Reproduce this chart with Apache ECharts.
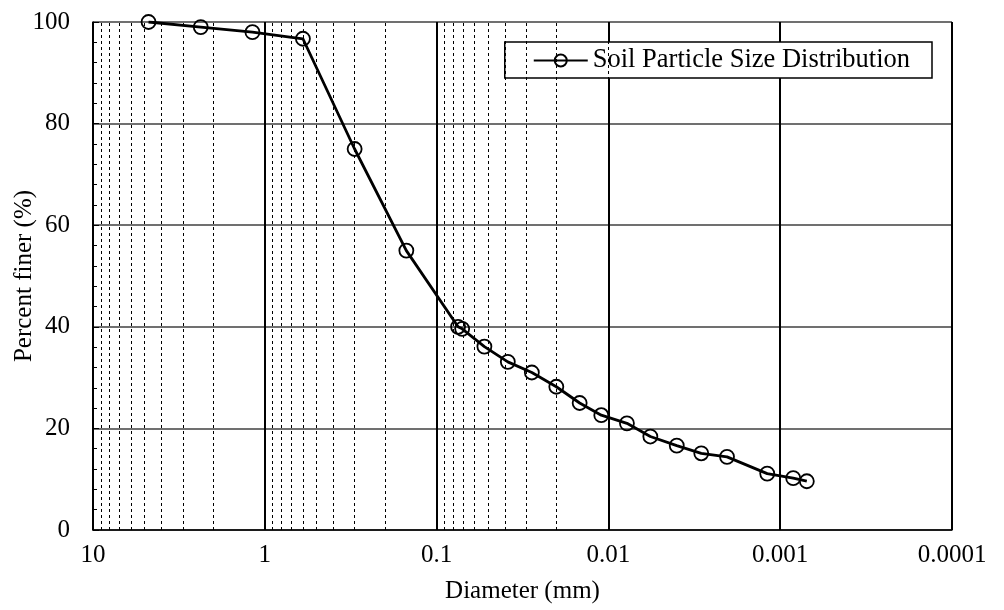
<!DOCTYPE html>
<html>
<head>
<meta charset="utf-8">
<script src="https://cdn.jsdelivr.net/npm/echarts@6/dist/echarts.min.js"></script>
<style>
html,body{margin:0;padding:0;background:#fff;}
#chart{width:1004px;height:610px;}
</style>
</head>
<body>
<div id="chart"></div>
<script>
// Data
const diameters = [4.75, 2.36, 1.18, 0.6, 0.3, 0.15, 0.075, 0.071, 0.0527, 0.0385, 0.0279, 0.0201, 0.0147, 0.011, 0.0078, 0.0057, 0.0040, 0.00288, 0.00204, 0.00119, 0.00084, 0.00070];
const percentFiner = [100, 99, 98, 96.7, 75, 55, 40, 39.6, 36.1, 33.1, 31.0, 28.2, 25.0, 22.6, 21.0, 18.4, 16.6, 15.1, 14.4, 11.1, 10.2, 9.6];
const seriesName = 'Soil Particle Size Distribution';
const xTickLabels = ['10', '1', '0.1', '0.01', '0.001', '0.0001'];
const decadeBases = [0.0001, 0.001, 0.01, 0.1, 1];
const minorMultipliers = [2, 3, 4, 5, 6, 7, 8, 9];

const FONT = '"Liberation Serif", "Times New Roman", serif';
const minorLines = [];
decadeBases.forEach(b => minorMultipliers.forEach(m => minorLines.push({ xAxis: +(b * m).toPrecision(3) })));

const chart = echarts.init(document.getElementById('chart'));
chart.setOption({
  animation: false,
  backgroundColor: '#fff',
  grid: { left: 93, right: 52, top: 22, bottom: 80, containLabel: false, outerBoundsMode: 'none' },
  legend: {
    data: [seriesName],
    right: 72, top: 42,
    backgroundColor: '#fff',
    borderColor: '#000', borderWidth: 1.5, borderRadius: 0,
    padding: [5, 22, 4, 28],
    itemWidth: 54, itemHeight: 15, itemGap: 5,
    textStyle: { fontFamily: FONT, fontSize: 26.5, color: '#000' }
  },
  xAxis: {
    type: 'log', logBase: 10, min: 0.0001, max: 10, inverse: true,
    name: 'Diameter (mm)', nameLocation: 'middle', nameGap: 49, nameMoveOverlap: false,
    nameTextStyle: { fontFamily: FONT, fontSize: 25, color: '#000' },
    axisLine: { show: true, onZero: false, lineStyle: { color: '#000', width: 1.5 } },
    axisTick: { show: true, inside: true, length: 5, lineStyle: { color: '#000' } },
    axisLabel: {
      fontFamily: FONT, fontSize: 25, color: '#000', margin: 13,
      formatter: v => {
        const k = Math.round(Math.log10(v));
        return xTickLabels[1 - k] !== undefined ? xTickLabels[1 - k] : '';
      }
    },
    splitLine: { show: true, lineStyle: { color: '#000', width: 2 } }
  },
  yAxis: {
    type: 'value', min: 0, max: 100, interval: 20,
    name: 'Percent finer (%)', nameLocation: 'middle', nameGap: 56, nameMoveOverlap: false,
    nameTextStyle: { fontFamily: FONT, fontSize: 25, color: '#000' },
    axisLine: { show: true, lineStyle: { color: '#000', width: 1.5 } },
    axisTick: { show: true, inside: true, length: 6, lineStyle: { color: '#000' } },
    minorTick: { show: true, splitNumber: 5, length: 4, lineStyle: { color: '#000' } },
    axisLabel: { fontFamily: FONT, fontSize: 25, color: '#000', margin: 23 },
    splitLine: { show: true, lineStyle: { color: '#404040', width: 1.5 } }
  },
  series: [
    {
      name: '__minor',
      type: 'line',
      z: 1,
      silent: true,
      symbol: 'none',
      lineStyle: { opacity: 0 },
      data: diameters.map((d, i) => [d, percentFiner[i]]),
      markLine: {
        silent: true, symbol: 'none', animation: false,
        label: { show: false },
        lineStyle: { color: '#000', type: [3, 3], width: 1 },
        data: minorLines
      }
    },
    {
      name: seriesName,
      type: 'line',
      z: 5,
      data: diameters.map((d, i) => [d, percentFiner[i]]),
      symbol: 'circle',
      symbolSize: 14,
      itemStyle: { color: 'rgba(255,255,255,0)', borderColor: '#000', borderWidth: 1.8 },
      lineStyle: { color: '#000', width: 2.8 }
    }
  ]
});
</script>
</body>
</html>
